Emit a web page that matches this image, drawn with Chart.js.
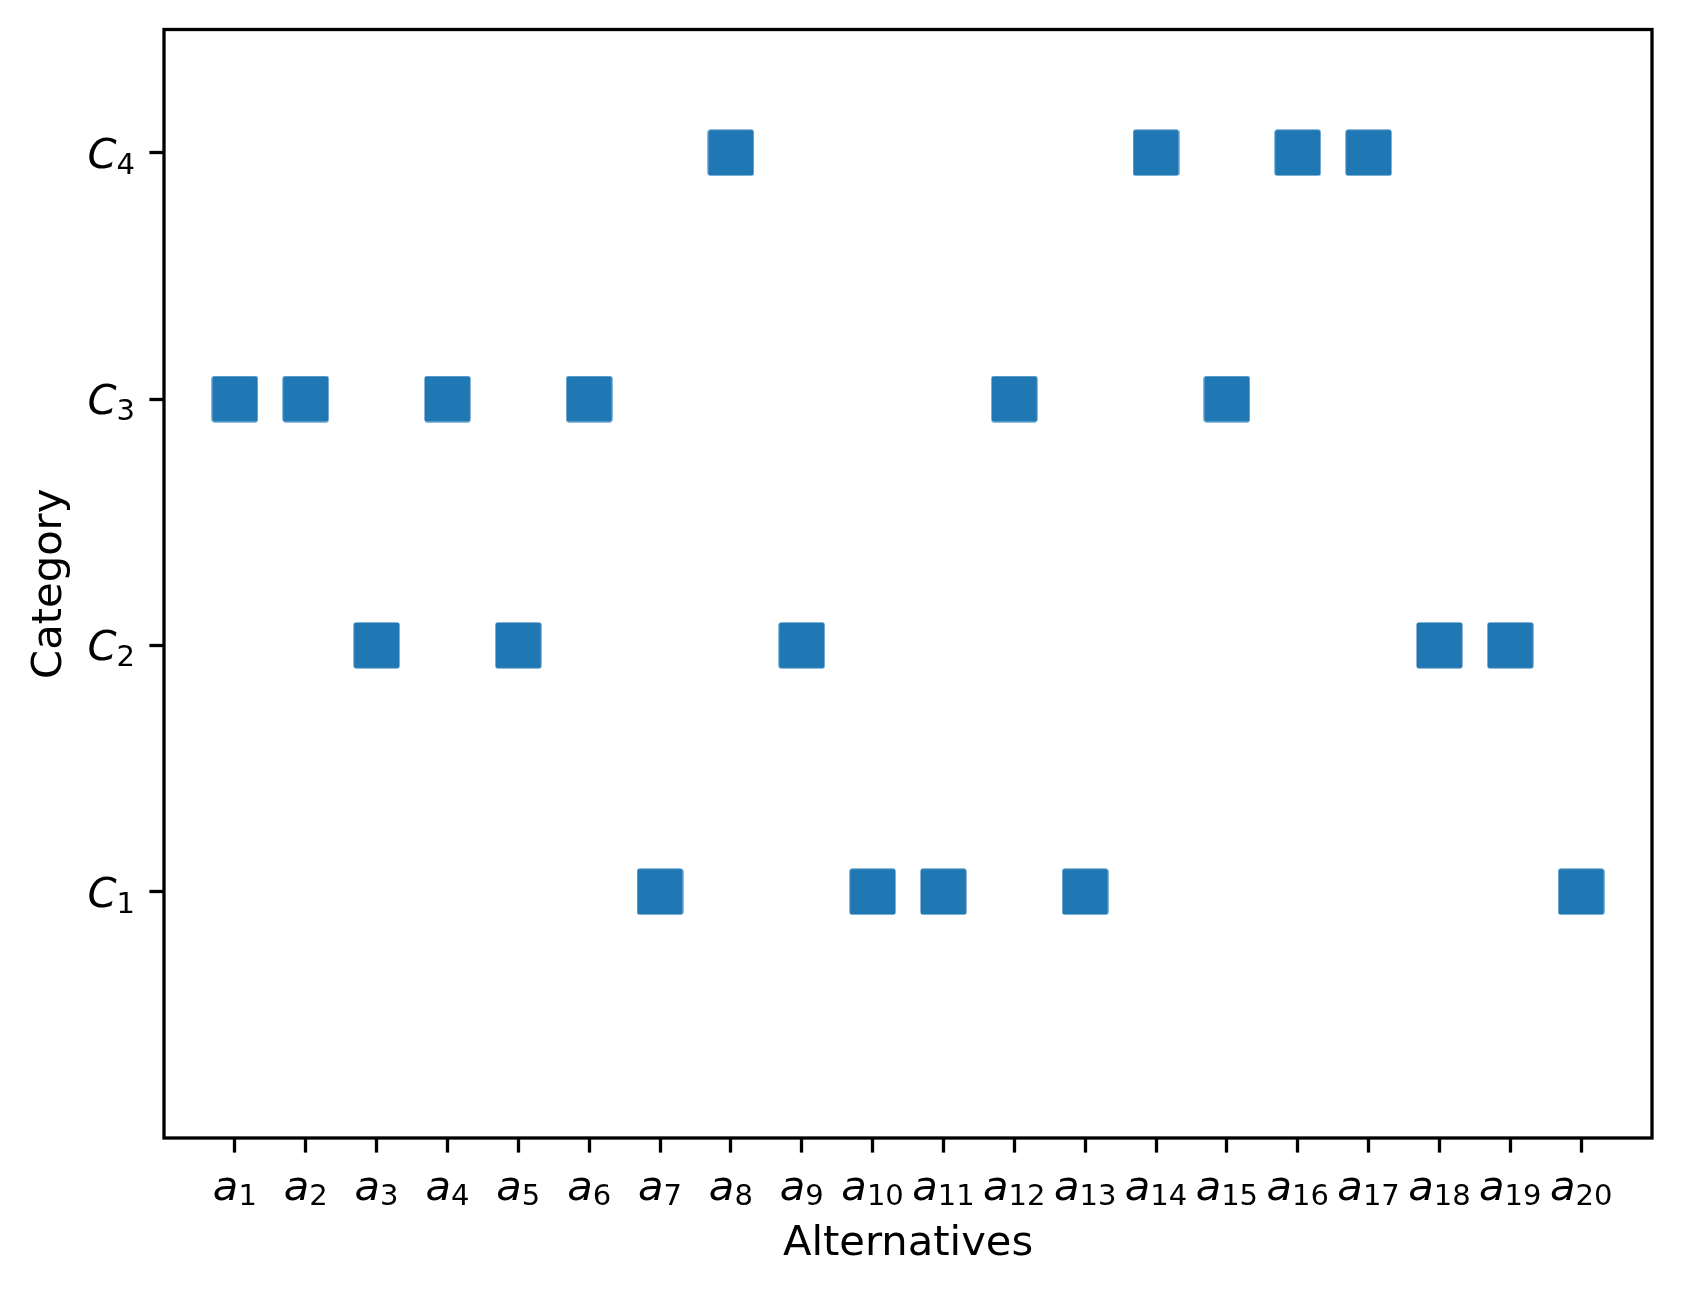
<!DOCTYPE html>
<html lang="en">
<head>
    <meta charset="UTF-8">
    <title>Alternatives by category</title>
    <script src="https://cdn.jsdelivr.net/npm/chart.js"></script>
    <style>
        body { margin: 0; background: #fff; }
        canvas { display: block; }
    </style>
</head>
<body>
    <canvas id="myChart" width="1681" height="1294"></canvas>

    <script>
        // alternatives a1..a20 and the category each one was assigned to
        const alternatives = [1, 2, 3, 4, 5, 6, 7, 8, 9, 10, 11, 12, 13, 14, 15, 16, 17, 18, 19, 20];
        const categories = [3, 3, 2, 3, 2, 3, 1, 4, 2, 1, 1, 3, 1, 4, 3, 4, 4, 2, 2, 1];
        const xTickLabels = alternatives.map(i => ['a', String(i)]);
        const yTicks = [1, 2, 3, 4];
        const yTickLabels = yTicks.map(i => ['C', String(i)]);

        const blue = '#1f77b4';
        const fontSize = 41.67;
        const subSize = 29;

        // square marker with slightly soft corners, used as the point style
        function makeMarker(side) {
            const c = document.createElement('canvas');
            c.width = side + 1;
            c.height = side + 1;
            const g = c.getContext('2d');
            g.fillStyle = blue;
            g.beginPath();
            g.roundRect(0.5, 0.5, side, side, 2.5);
            g.fill();
            return c;
        }
        const marker = makeMarker(46);

        // draws the frame and the math-style tick labels (letter + subscript)
        const mathTicks = {
            id: 'mathTicks',
            afterDraw(chart) {
                const ctx = chart.ctx;
                const area = chart.chartArea;
                const xs = chart.scales.x;
                const ys = chart.scales.y;
                ctx.save();

                ctx.strokeStyle = '#000';
                ctx.lineWidth = 3.3;
                ctx.strokeRect(area.left, area.top, area.right - area.left, area.bottom - area.top);

                ctx.fillStyle = '#000';
                ctx.textBaseline = 'alphabetic';
                ctx.textAlign = 'left';
                const mainFont = 'italic ' + fontSize + 'px "DejaVu Sans"';
                const subFont = subSize + 'px "DejaVu Sans"';

                alternatives.forEach((v, i) => {
                    const [letter, sub] = xTickLabels[i];
                    ctx.font = mainFont;
                    const w1 = ctx.measureText(letter).width;
                    ctx.font = subFont;
                    const w2 = ctx.measureText(sub).width;
                    const px = xs.getPixelForValue(v);
                    const x0 = px - (w1 + w2) / 2;
                    const base = area.bottom + 62;
                    ctx.font = mainFont;
                    ctx.fillText(letter, x0, base);
                    ctx.font = subFont;
                    ctx.fillText(sub, x0 + w1, base + 5);
                });

                yTicks.forEach((v, i) => {
                    const [letter, sub] = yTickLabels[i];
                    ctx.font = mainFont;
                    const w1 = ctx.measureText(letter).width;
                    ctx.font = subFont;
                    const w2 = ctx.measureText(sub).width;
                    const py = ys.getPixelForValue(v);
                    const right = area.left - 29;
                    const x0 = right - w1 - w2;
                    const base = py + 15;
                    ctx.font = mainFont;
                    ctx.fillText(letter, x0, base);
                    ctx.font = subFont;
                    ctx.fillText(sub, x0 + w1, base + 6);
                });

                ctx.restore();
            }
        };

        const ctx = document.getElementById('myChart').getContext('2d');
        new Chart(ctx, {
            type: 'scatter',
            data: {
                datasets: [{
                    label: 'Category',
                    data: alternatives.map((a, i) => ({ x: a, y: categories[i] })),
                    backgroundColor: blue,
                    borderColor: blue,
                    borderWidth: 0,
                    pointStyle: marker,
                    pointRadius: 1,
                    pointHoverRadius: 1,
                }]
            },
            options: {
                responsive: false,
                animation: false,
                events: [],
                layout: { padding: { top: 29.5, right: 29, left: 0, bottom: 0 } },
                plugins: {
                    legend: { display: false },
                    tooltip: { enabled: false },
                },
                scales: {
                    x: {
                        type: 'linear',
                        min: 0,
                        max: 21,
                        afterBuildTicks: scale => { scale.ticks = alternatives.map(v => ({ value: v })); },
                        afterFit: scale => { scale.height = 156; },
                        ticks: { display: false, autoSkip: false },
                        grid: {
                            drawOnChartArea: false,
                            drawTicks: true,
                            tickLength: 14.6,
                            tickWidth: 3.3,
                            tickColor: '#000',
                        },
                        border: { display: false },
                        title: {
                            display: true,
                            text: 'Alternatives',
                            color: '#000',
                            font: { family: 'DejaVu Sans', size: fontSize },
                            padding: { top: 0, bottom: 25 },
                        },
                    },
                    y: {
                        type: 'linear',
                        min: 0,
                        max: 4.5,
                        afterBuildTicks: scale => { scale.ticks = yTicks.map(v => ({ value: v })); },
                        afterFit: scale => { scale.width = 164; },
                        ticks: { display: false, autoSkip: false },
                        grid: {
                            drawOnChartArea: false,
                            drawTicks: true,
                            tickLength: 14.6,
                            tickWidth: 3.3,
                            tickColor: '#000',
                        },
                        border: { display: false },
                        title: {
                            display: true,
                            text: 'Category',
                            color: '#000',
                            font: { family: 'DejaVu Sans', size: fontSize },
                            padding: { top: 25, bottom: 0 },
                        },
                    },
                },
            },
            plugins: [mathTicks],
        });
    </script>
</body>
</html>
